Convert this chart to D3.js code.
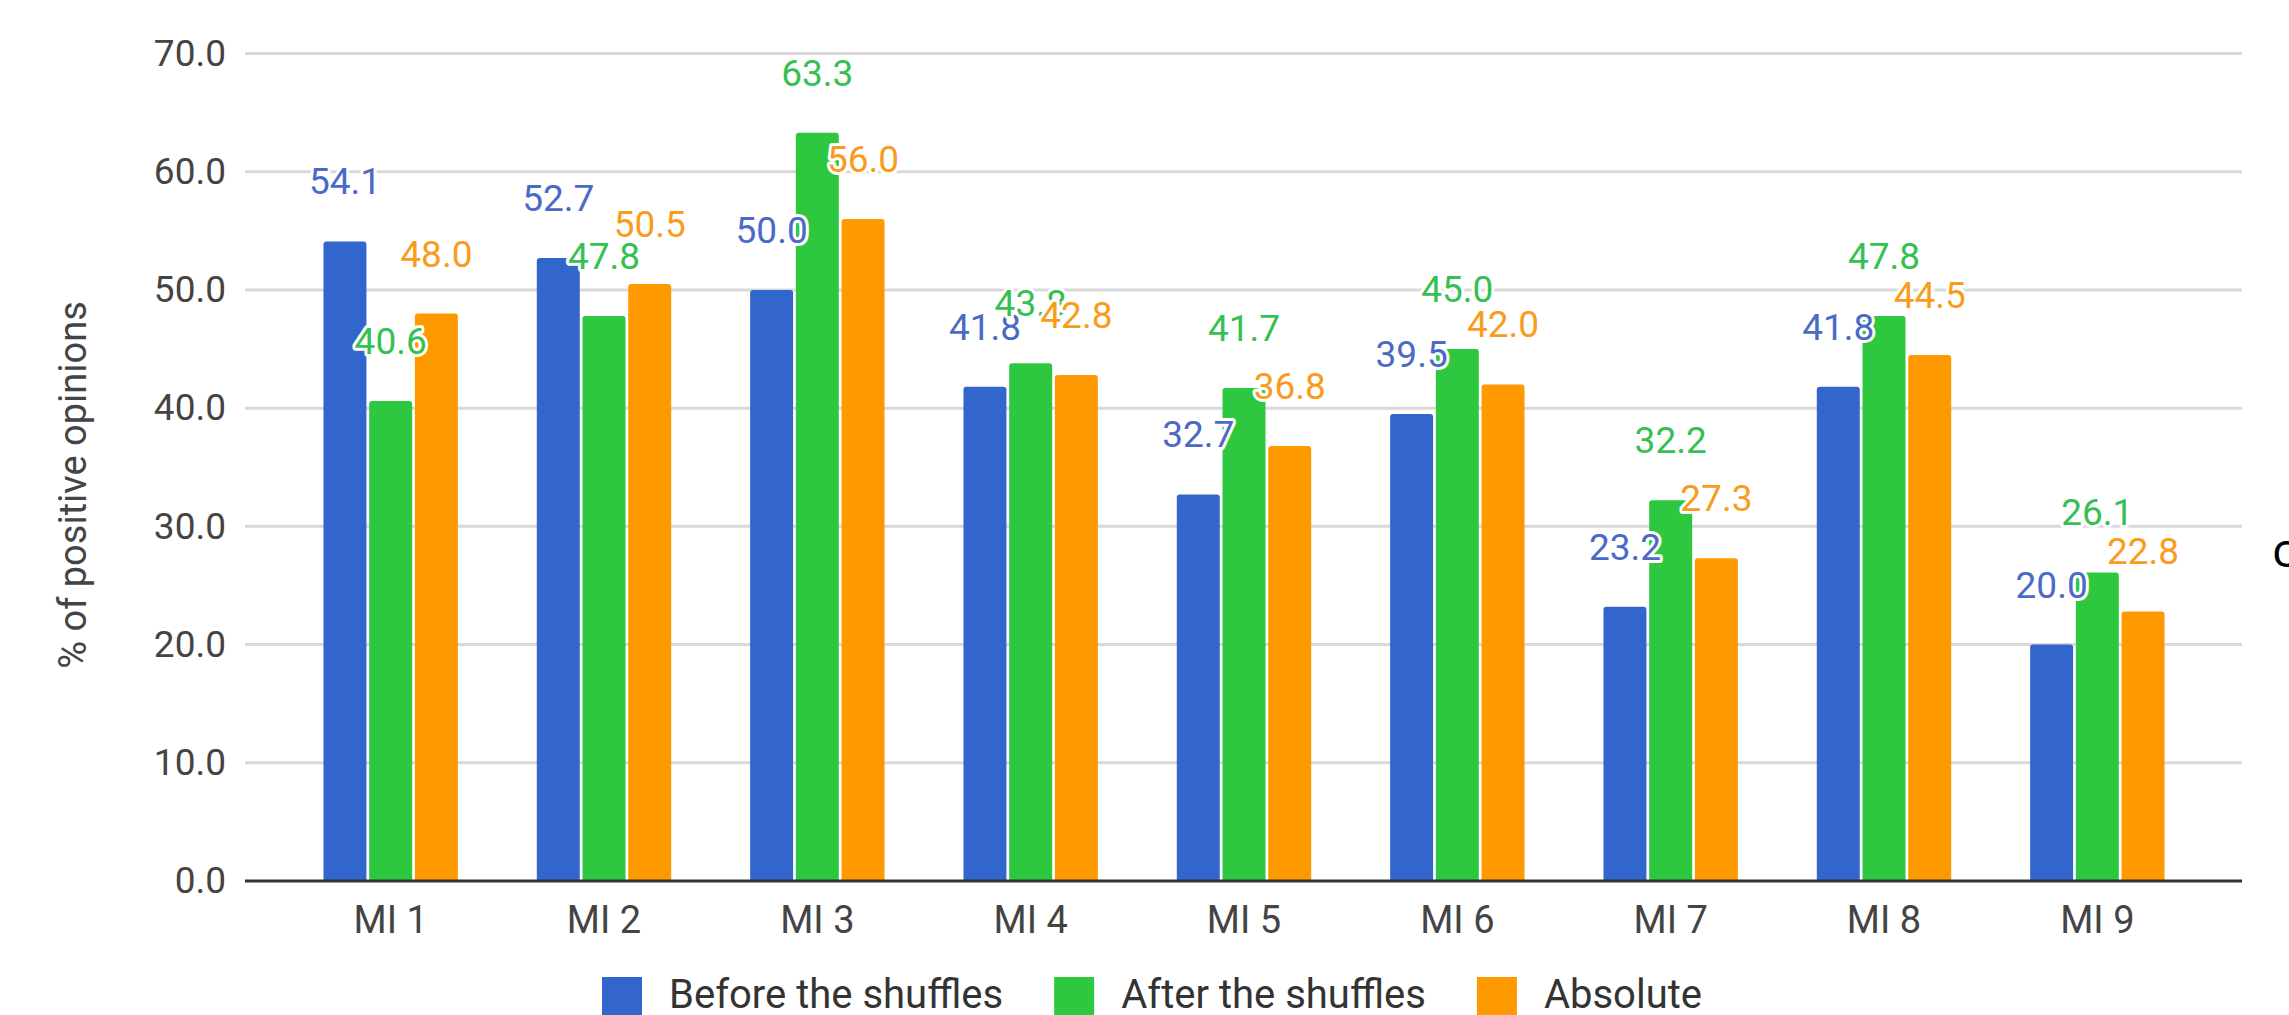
<!DOCTYPE html>
<html>
<head>
<meta charset="utf-8">
<script src="https://cdn.jsdelivr.net/npm/d3@7"></script>
<style>
  body { margin: 0; background: #fff; }
  svg { display: block; font-family: Roboto, "Noto Sans", sans-serif; }
</style>
</head>
<body>
<svg class="chart"></svg>
<script>
var width = 2289,
    height = 1015;

var categories = ["MI 1", "MI 2", "MI 3", "MI 4", "MI 5", "MI 6", "MI 7", "MI 8", "MI 9"];
var seriesNames = ["Before the shuffles", "After the shuffles", "Absolute"];
var before   = [54.1, 52.7, 50.0, 41.8, 32.7, 39.5, 23.2, 41.8, 20.0];
var after    = [40.6, 47.8, 63.3, 43.8, 41.7, 45.0, 32.2, 47.8, 26.1];
var absolute = [48.0, 50.5, 56.0, 42.8, 36.8, 42.0, 27.3, 44.5, 22.8];
var yTicks = [0, 10, 20, 30, 40, 50, 60, 70];

var barColors = ["#3366cc", "#2ec840", "#ff9900"];
var labelColors = ["#4a6ac6", "#36bf52", "#f99c1e"];

var series = [before, after, absolute];

var plotLeft = 245, plotRight = 2242;

var chart = d3.select(".chart")
    .attr("width", width)
    .attr("height", height);

var y = d3.scaleLinear()
    .domain([0, 70])
    .range([881, 53.5]);

var x0 = d3.scaleBand()
    .domain(categories)
    .range([284, 2204])
    .paddingInner(0.37)
    .paddingOuter(0.185);

var x1 = d3.scaleBand()
    .domain(d3.range(series.length))
    .range([0, x0.bandwidth()])
    .paddingInner(0.06);

// gridlines
chart.append("g")
  .selectAll("line")
    .data(yTicks.filter(function(d) { return d > 0; }))
  .enter().append("line")
    .attr("x1", plotLeft)
    .attr("x2", plotRight)
    .attr("y1", function(d) { return y(d); })
    .attr("y2", function(d) { return y(d); })
    .attr("stroke", "#d9d9d9")
    .attr("stroke-width", 3);

// y axis labels
var yAxis = chart.append("g")
    .attr("transform", "translate(" + plotLeft + ",0)")
    .call(d3.axisLeft(y).tickValues(yTicks).tickFormat(d3.format(".1f")).tickSize(0).tickPadding(19));
yAxis.select(".domain").remove();
yAxis.selectAll("text")
    .attr("font-family", "Roboto")
    .attr("font-size", 37)
    .attr("fill", "#444");

// y axis title
chart.append("text")
    .attr("transform", "translate(73,485) rotate(-90)")
    .attr("text-anchor", "middle")
    .attr("dy", "0.35em")
    .attr("font-size", 38)
    .attr("fill", "#444")
    .text("% of positive opinions");

// bars
function barPath(x, w, top, bottom) {
  var r = 3;
  return "M" + x + "," + bottom +
    "V" + (top + r) +
    "Q" + x + "," + top + " " + (x + r) + "," + top +
    "H" + (x + w - r) +
    "Q" + (x + w) + "," + top + " " + (x + w) + "," + (top + r) +
    "V" + bottom + "Z";
}

var group = chart.append("g")
  .selectAll("g")
    .data(categories)
  .enter().append("g")
    .attr("transform", function(d) { return "translate(" + x0(d) + ",0)"; });

group.selectAll("path")
    .data(function(d, i) { return series.map(function(s, k) { return { k: k, value: s[i] }; }); })
  .enter().append("path")
    .attr("d", function(d) { return barPath(x1(d.k), x1.bandwidth(), y(d.value), y(0)); })
    .attr("fill", function(d) { return barColors[d.k]; });

// baseline
chart.append("line")
    .attr("x1", plotLeft)
    .attr("x2", plotRight)
    .attr("y1", y(0))
    .attr("y2", y(0))
    .attr("stroke", "#333")
    .attr("stroke-width", 3);

// x axis labels
var xAxis = chart.append("g")
    .attr("transform", "translate(0," + y(0) + ")")
    .call(d3.axisBottom(x0).tickSize(0).tickPadding(25));
xAxis.select(".domain").remove();
xAxis.selectAll("text")
    .attr("font-family", "Roboto")
    .attr("font-size", 38)
    .attr("fill", "#444");

// value labels, series by series so later ones sit on top
series.forEach(function(s, k) {
  chart.append("g")
    .selectAll("text")
      .data(s)
    .enter().append("text")
      .attr("x", function(d, i) { return x0(categories[i]) + x1(k) + x1.bandwidth() / 2; })
      .attr("y", function(d) { return y(d) - 60; })
      .attr("dy", "0.35em")
      .attr("text-anchor", "middle")
      .attr("font-size", 37)
      .attr("fill", labelColors[k])
      .attr("stroke", "#fff")
      .attr("stroke-width", 6)
      .attr("stroke-linejoin", "round")
      .attr("paint-order", "stroke")
      .text(function(d) { return d.toFixed(1); });
});

// legend
var lx = 602;
seriesNames.forEach(function(name, k) {
  chart.append("rect")
      .attr("x", lx)
      .attr("y", 977)
      .attr("width", 40)
      .attr("height", 40)
      .attr("fill", barColors[k]);
  var t = chart.append("text")
      .attr("x", lx + 67)
      .attr("y", 1008)
      .attr("font-size", 40)
      .attr("fill", "#333")
      .text(name);
  lx += 67 + t.node().getComputedTextLength() + 51;
});

// stray glyph cut at the right edge
chart.append("text")
    .attr("x", 2272)
    .attr("y", 567)
    .attr("font-family", "Open Sans")
    .attr("font-size", 48)
    .attr("fill", "#000")
    .text("c");
</script>
</body>
</html>
